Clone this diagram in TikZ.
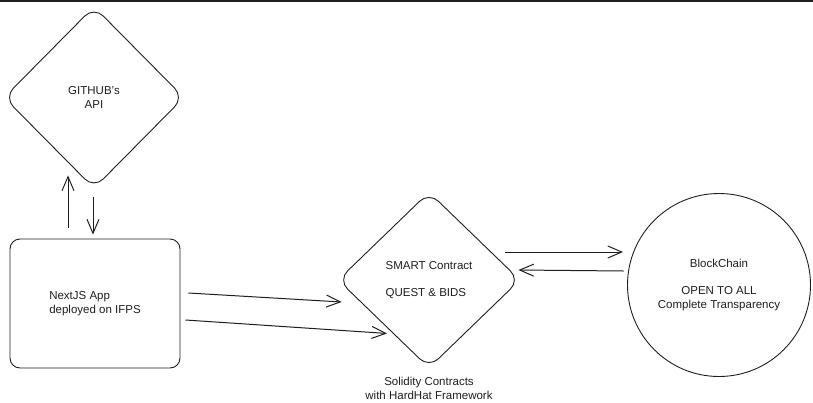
\documentclass[tikz,border=0pt]{standalone}
\usepackage{fontspec}
\setmainfont{Liberation Sans}
\usetikzlibrary{arrows.meta,shapes.geometric,calc}
\definecolor{ink}{HTML}{1E1E1E}
\begin{document}
\begin{tikzpicture}[x=1pt,y=-1pt,
  txt/.style={text=ink,font=\fontsize{11.5}{13.5}\selectfont,inner sep=0pt},
  shp/.style={txt,draw=ink,line width=0.9pt},
  dia/.style={shp,diamond,rounded corners=13pt,align=center},
  conn/.style={draw=ink,line width=1pt,-{Straight Barb[length=14pt,width=12pt]}}]
\useasboundingbox (0,0) rectangle (813,402);
\fill[ink] (0,0) rectangle (813,2);
\node[dia,minimum width=180pt,minimum height=182pt] (gh) at (94,97.5) {GITHUB's\\API};
\node[shp,rectangle,rounded corners=10pt,minimum width=170pt,minimum height=129pt,align=left] (nx) at (95,303.5) {NextJS App\\deployed on IFPS};
\node[dia,minimum width=182pt,minimum height=176pt,align=left] (sc) at (429,280) {SMART Contract\\[13.5pt]QUEST \& BIDS};
\node[shp,circle,minimum size=183pt,align=center] (bc) at (719,285) {BlockChain\\[13.5pt]OPEN TO ALL\\Complete Transparency};
\node[txt,align=center] (sol) at (429,388.5) {Solidity Contracts\\with HardHat Framework};
\draw[conn] ($(nx.north)+(-27,-11)$) -- ($(gh.south)+(-26,-13.5)$);
\draw[conn] ($(gh.south)+(-1,8.5)$) -- ($(nx.north)+(-2,-4)$);
\draw[conn] ($(nx.east)+(8,-10.5)$) -- ($(sc.west)+(4,22)$);
\draw[conn] ($(nx.east)+(5,16.5)$) -- ($(sc.south)+(-42,-35)$);
\draw[conn] ($(sc.east)+(-15,-28)$) -- ($(bc.west)+(-4,-33)$);
\draw[conn] ($(bc.west)+(-3.5,-14)$) -- ($(sc.east)+(-2,-10)$);
\end{tikzpicture}
\end{document}
